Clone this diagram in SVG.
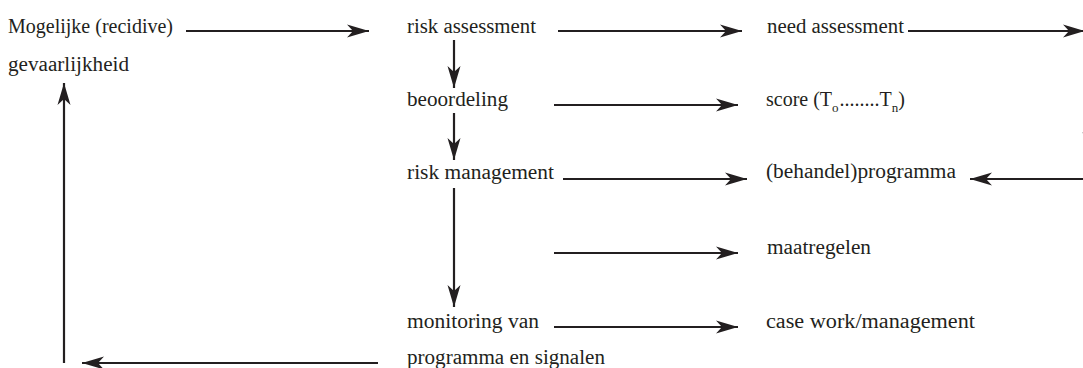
<svg xmlns="http://www.w3.org/2000/svg" width="1083" height="368" viewBox="0 0 1083 368">
<style>
  .t { font-family: "Liberation Serif", "Times New Roman", serif; font-size: 20px; fill: #231f20; }
  .c line { stroke: #231f20; stroke-width: 2.2; fill: none; }
  .a { marker-end: url(#ah); }
</style>
<defs>
  <marker id="ah" markerUnits="userSpaceOnUse" markerWidth="24" markerHeight="14" refX="22" refY="6.5" orient="auto" overflow="visible">
    <path d="M0,0 L22,6.5 L0,13 L6,6.5 Z" fill="#231f20"/>
  </marker>
</defs>
<rect width="1083" height="368" fill="#ffffff"/>

<g id="n-gevaarlijkheid">
  <text class="t" x="8" y="33" textLength="165" lengthAdjust="spacingAndGlyphs">Mogelijke (recidive)</text>
  <text class="t" x="8" y="71" textLength="121" lengthAdjust="spacingAndGlyphs">gevaarlijkheid</text>
</g>
<g id="n-risk-assessment">
  <text class="t" x="407" y="33" textLength="129" lengthAdjust="spacingAndGlyphs">risk assessment</text>
</g>
<g id="n-need-assessment">
  <text class="t" x="767" y="33" textLength="137" lengthAdjust="spacingAndGlyphs">need assessment</text>
</g>
<g id="n-beoordeling">
  <text class="t" x="407" y="106" textLength="101" lengthAdjust="spacingAndGlyphs">beoordeling</text>
</g>
<g id="n-score">
  <text class="t" x="766" y="106">score (T<tspan font-size="13" dy="6">o</tspan><tspan dy="-6" dx="1">........T</tspan><tspan font-size="13" dy="6">n</tspan><tspan dy="-6">)</tspan></text>
</g>
<g id="n-risk-management">
  <text class="t" x="407" y="179" textLength="147" lengthAdjust="spacingAndGlyphs">risk management</text>
</g>
<g id="n-programma">
  <text class="t" x="766" y="178" textLength="190" lengthAdjust="spacingAndGlyphs">(behandel)programma</text>
</g>
<g id="n-maatregelen">
  <text class="t" x="767" y="254" textLength="104" lengthAdjust="spacingAndGlyphs">maatregelen</text>
</g>
<g id="n-monitoring">
  <text class="t" x="407" y="328" textLength="132" lengthAdjust="spacingAndGlyphs">monitoring van</text>
  <text class="t" x="407" y="364" textLength="198" lengthAdjust="spacingAndGlyphs">programma en signalen</text>
</g>
<g id="n-casework">
  <text class="t" x="766" y="328" textLength="209" lengthAdjust="spacingAndGlyphs">case work/management</text>
</g>

<g id="connectors" class="c">
  <line class="a" x1="186" y1="31" x2="369" y2="31"/>
  <line class="a" x1="558" y1="31" x2="742" y2="31"/>
  <line class="a" x1="908" y1="31" x2="1085" y2="31"/>
  <line class="a" x1="454" y1="40" x2="454" y2="88"/>
  <line class="a" x1="554" y1="105" x2="738" y2="105"/>
  <line class="a" x1="454" y1="113" x2="454" y2="160"/>
  <line class="a" x1="563" y1="179" x2="747" y2="179"/>
  <line class="a" x1="1095" y1="179" x2="970" y2="179"/>
  <line class="a" x1="454" y1="188" x2="454" y2="307"/>
  <line class="a" x1="554" y1="253" x2="738" y2="253"/>
  <line class="a" x1="554" y1="327" x2="738" y2="327"/>
  <line class="a" x1="378" y1="363" x2="82" y2="363"/>
  <line class="a" x1="64" y1="363" x2="64" y2="83"/>
  <line class="a" x1="1089" y1="45" x2="1089" y2="154"/>
</g>
</svg>
